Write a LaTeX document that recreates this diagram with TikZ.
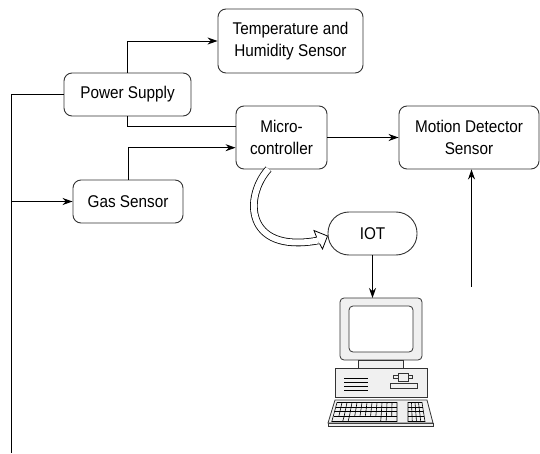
\documentclass[tikz,border=0pt]{standalone}
\usepackage{fontspec}
\setmainfont{Liberation Sans}[FakeStretch=0.9]
\usetikzlibrary{arrows.meta,positioning,calc}
\tikzset{every picture/.style={line width=0.9pt}}
\tikzset{
  block/.style={draw=black!80, rounded corners=8pt, align=center,
    inner sep=0pt, font=\fontsize{17}{22.5}\selectfont},
  arr/.style={-{Stealth[length=10pt,width=7pt]}},
  pcpart/.style={draw=black!80, fill=black!6, line width=0.8pt}
}

\begin{document}
\begin{tikzpicture}[x=1pt, y=-1pt]
    \useasboundingbox (0,0) rectangle (540,454);

    % Blocks
    \node[block, minimum width=145pt, minimum height=64pt] (temp) at (290.5,41) {Temperature and\\Humidity Sensor};
    \node[block, minimum width=127pt, minimum height=43pt] (power) at (127.5,94.5) {Power Supply};
    \node[block, minimum width=91pt, minimum height=63pt] (micro) at (281.5,137.5) {Micro-\\controller};
    \node[block, minimum width=140pt, minimum height=63pt] (motion) at (469,137.5) {Motion Detector\\Sensor};
    \node[block, minimum width=110pt, minimum height=43pt] (gas) at (128,201.5) {Gas Sensor};
    \node[block, rounded corners=21pt, minimum width=89pt, minimum height=43pt] (iot) at (372.5,233.5) {IOT};

    % Free ends of the wires
    \coordinate (busTop) at (11,94.5);
    \coordinate (busEnd) at (11,453);
    \coordinate (busGas) at (11,201.5);
    \coordinate (motionIn) at (471.5,286.7);
    \coordinate (pcTop) at (372,298);

    % Power bus
    \draw (power.west) -- (busTop) -- (busEnd);
    \draw[arr] (busGas) -- (gas.west);
    \draw[arr] (power.north) |- (temp.west);
    \draw (power.south) |- ([yshift=10.8pt]micro.west);
    \draw[arr] (gas.north) |- ([yshift=-10.2pt]micro.west);
    \draw[arr] (micro) -- (motion);
    \draw[arr] (motionIn) -- (motionIn |- motion.south);
    \draw[arr] (iot.south) -- (iot.south |- pcTop);

    % Hollow arrow to the IOT block
    \draw[double=white, double distance=6pt, line width=0.8pt]
      (268.5,169) .. controls (244,196) and (244,254) .. (318,240.5);
    \draw[fill=white, line width=0.8pt]
      (316.5,237) -- (314,230.5) -- (327.5,236) -- (322.5,249) -- (319.5,243.5);

    % Computer: monitor
    \draw[pcpart, rounded corners=4pt] (340,298) rectangle (422,360);
    \draw[pcpart, fill=white, rounded corners=4pt] (349,306) rectangle (413,352);
    \draw[pcpart] (358,360) rectangle (403,368);
    % Computer: case
    \draw[pcpart] (335,368) rectangle (427,397);
    \foreach \y in {378,382,386,390}
      \draw[line width=0.8pt] (344,\y) -- (368,\y);
    \draw[pcpart] (390,383) rectangle (417,388);
    \draw[pcpart] (393,375) rectangle (412,378);
    \draw[pcpart] (398,373) rectangle (408,381);
    % Computer: keyboard
    \draw[pcpart] (328,423) rectangle (433,426.5);
    \draw[pcpart] (335,400) -- (427,400) -- (433,423) -- (328,423) -- cycle;
    \begin{scope}[line width=0.6pt]
      % main keys
      \draw (337,402.5) -- (397,402.5) -- (397,421.5) -- (331.8,421.5) -- cycle;
      \foreach \y/\l in {407/336, 411.5/334.8, 416.5/333.5}
        \draw (\l,\y) -- (397,\y);
      \foreach \i in {1,...,11}
        \draw ({337+5*\i},402.5) -- ({333.5+5.29*\i},416.5);
      \foreach \i in {2,3,9,10}
        \draw ({333.5+5.29*\i},416.5) -- ({331.8+5.43*\i},421.5);
      % number pad
      \draw (408,402.5) -- (422,402.5) -- (425,421.5) -- (408,421.5) -- cycle;
      \foreach \y/\r in {407/422.7, 411.5/423.4, 416.5/424.2}
        \draw (408,\y) -- (\r,\y);
      \foreach \i in {1,2,3}
        \draw ({408+3.5*\i},402.5) -- ({408+4.25*\i},421.5);
    \end{scope}
\end{tikzpicture}
\end{document}
